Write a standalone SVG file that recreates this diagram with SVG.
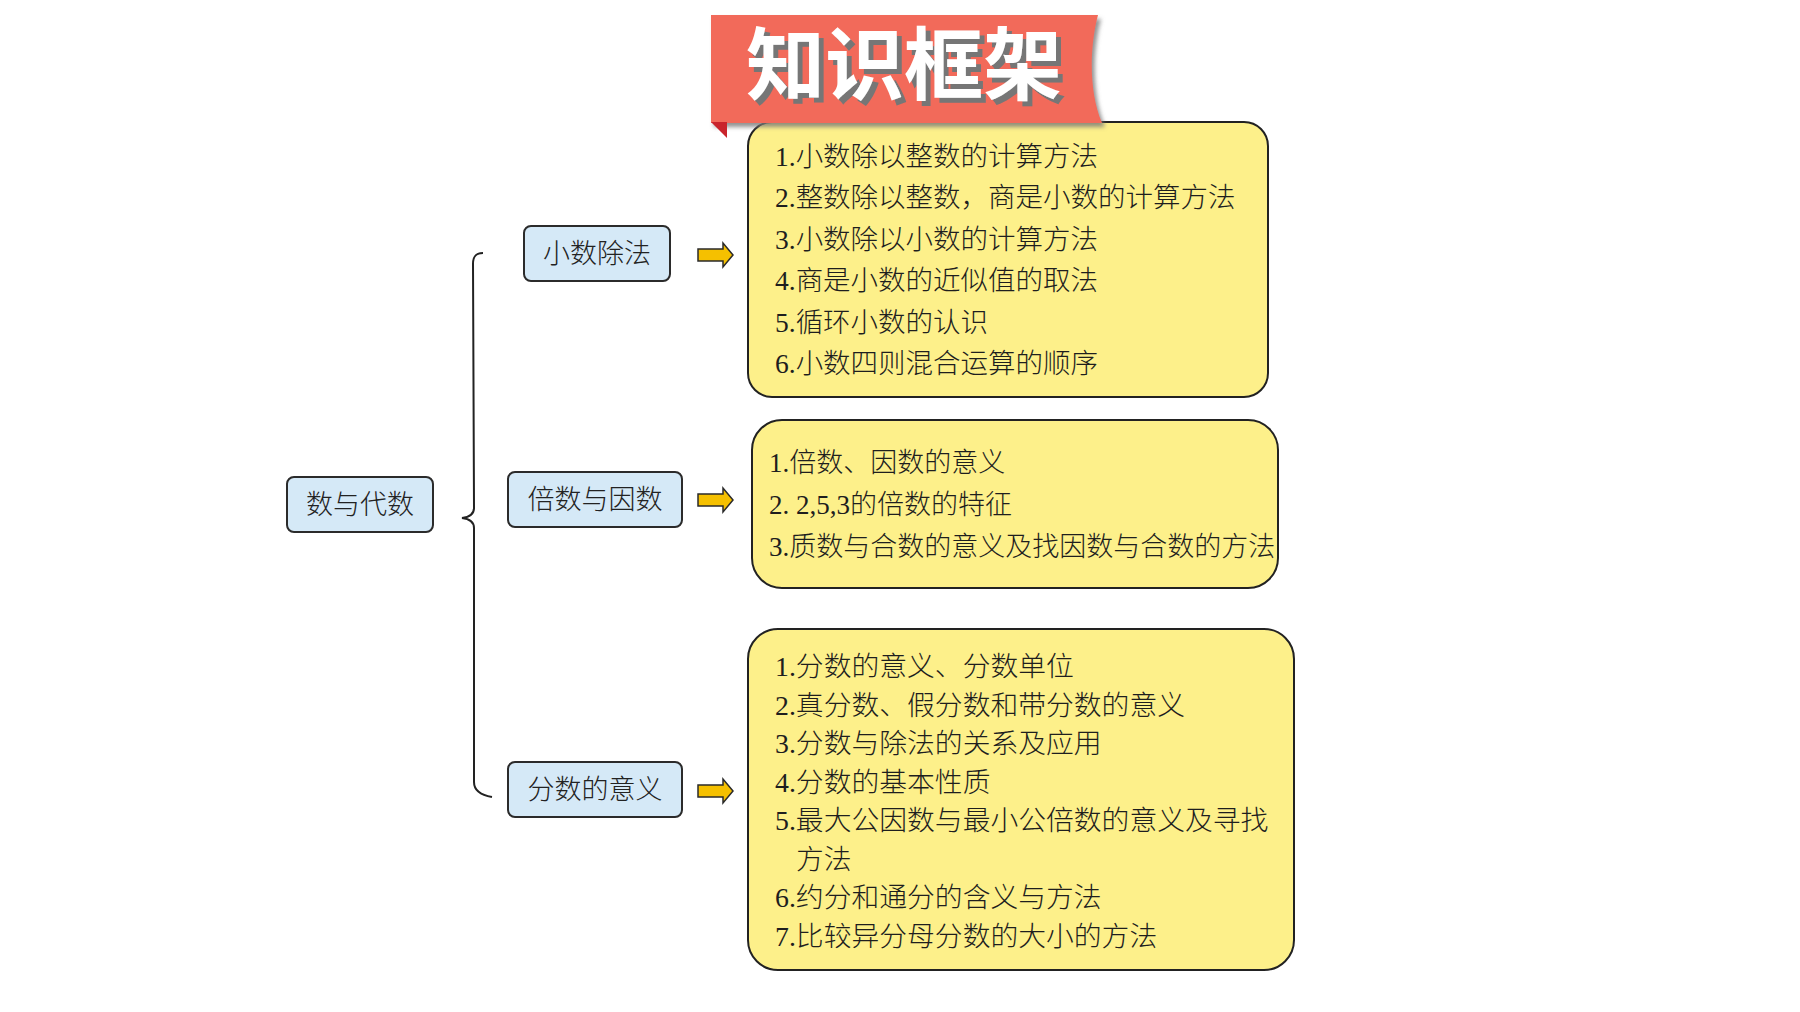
<svg xmlns="http://www.w3.org/2000/svg" width="1800" height="1012" viewBox="0 0 1800 1012">
<defs>
<style>
.blue{fill:#D5E9F7;stroke:#2b2b2b;stroke-width:2}
.yel{fill:#FDF08A;stroke:#222;stroke-width:2}
.lbl{font-family:"Noto Sans CJK SC","Liberation Sans",sans-serif;font-size:27px;font-weight:300;fill:#222;text-anchor:middle}
.item{font-family:"Liberation Serif","Noto Sans CJK SC",serif;font-weight:300;fill:#1e1e1e}
.arrow{fill:#F5C000;stroke:#2a2a2a;stroke-width:1.5;stroke-linejoin:miter}
.title{font-family:"Noto Sans CJK SC","Liberation Sans",sans-serif;font-size:79px;font-weight:bold;fill:#fff}
</style>
<filter id="sh" x="-5%" y="-10%" width="115%" height="130%">
<feDropShadow dx="3" dy="4" stdDeviation="2" flood-color="#777" flood-opacity="0.8"/>
</filter>
<filter id="tsh" x="-5%" y="-10%" width="115%" height="130%">
<feDropShadow dx="5" dy="5" stdDeviation="0.5" flood-color="#767676" flood-opacity="1"/>
</filter>
<symbol id="arr" viewBox="0 0 36 26" width="36" height="26" overflow="visible">
<path class="arrow" d="M0,7 H25 V1 L35,13 L25,25 V19 H0 Z"/>
</symbol>
</defs>
<rect width="1800" height="1012" fill="#fff"/>

<g id="box-xiaoshu-items">
<rect class="yel" x="748" y="122" width="520" height="275" rx="24"/>
<text class="item" font-size="27.5">
<tspan x="775" y="166">1.小数除以整数的计算方法</tspan>
<tspan x="775" y="207">2.整数除以整数，商是小数的计算方法</tspan>
<tspan x="775" y="249">3.小数除以小数的计算方法</tspan>
<tspan x="775" y="290">4.商是小数的近似值的取法</tspan>
<tspan x="775" y="332">5.循环小数的认识</tspan>
<tspan x="775" y="373">6.小数四则混合运算的顺序</tspan>
</text>
</g>

<g id="banner">
<path d="M711,15 H1098 C1090,45 1088,90 1102,123 H711 Z" fill="#F26A5A" filter="url(#sh)"/>
<path d="M711,122 L727,122 L727,138 Z" fill="#C9242C"/>
<text class="title" x="746" y="94" filter="url(#tsh)">知识框架</text>
</g>

<g id="box-beishu-items">
<rect class="yel" x="752" y="420" width="526" height="168" rx="30"/>
<text class="item" font-size="27">
<tspan x="769" y="472">1.倍数、因数的意义</tspan>
<tspan x="769" y="514">2. 2,5,3的倍数的特征</tspan>
<tspan x="769" y="556">3.质数与合数的意义及找因数与合数的方法</tspan>
</text>
</g>

<g id="box-fenshu-items">
<rect class="yel" x="748" y="629" width="546" height="341" rx="30"/>
<text class="item" font-size="27.8">
<tspan x="775" y="676">1.分数的意义、分数单位</tspan>
<tspan x="775" y="714.5">2.真分数、假分数和带分数的意义</tspan>
<tspan x="775" y="753">3.分数与除法的关系及应用</tspan>
<tspan x="775" y="791.5">4.分数的基本性质</tspan>
<tspan x="775" y="830">5.最大公因数与最小公倍数的意义及寻找</tspan>
<tspan x="796" y="868.5">方法</tspan>
<tspan x="775" y="907">6.约分和通分的含义与方法</tspan>
<tspan x="775" y="945.5">7.比较异分母分数的大小的方法</tspan>
</text>
</g>

<g id="node-root">
<rect class="blue" x="287" y="477" width="146" height="55" rx="7"/>
<text class="lbl" x="360" y="514">数与代数</text>
</g>
<g id="node-xiaoshu">
<rect class="blue" x="524" y="226" width="146" height="55" rx="7"/>
<text class="lbl" x="597" y="263">小数除法</text>
</g>
<g id="node-beishu">
<rect class="blue" x="508" y="472" width="174" height="55" rx="7"/>
<text class="lbl" x="595" y="509">倍数与因数</text>
</g>
<g id="node-fenshu">
<rect class="blue" x="508" y="762" width="174" height="55" rx="7"/>
<text class="lbl" x="595" y="799">分数的意义</text>
</g>

<g id="connectors">
<path d="M483,253 C476,253 473,256 473,264 L474,508 C474,514 470,517 462,518 C470,519 474,522 474,528 L474,782 C474,790 480,795 492,797" fill="none" stroke="#222" stroke-width="2"/>
<use href="#arr" x="698" y="242"/>
<use href="#arr" x="698" y="487"/>
<use href="#arr" x="698" y="778"/>
</g>
</svg>
